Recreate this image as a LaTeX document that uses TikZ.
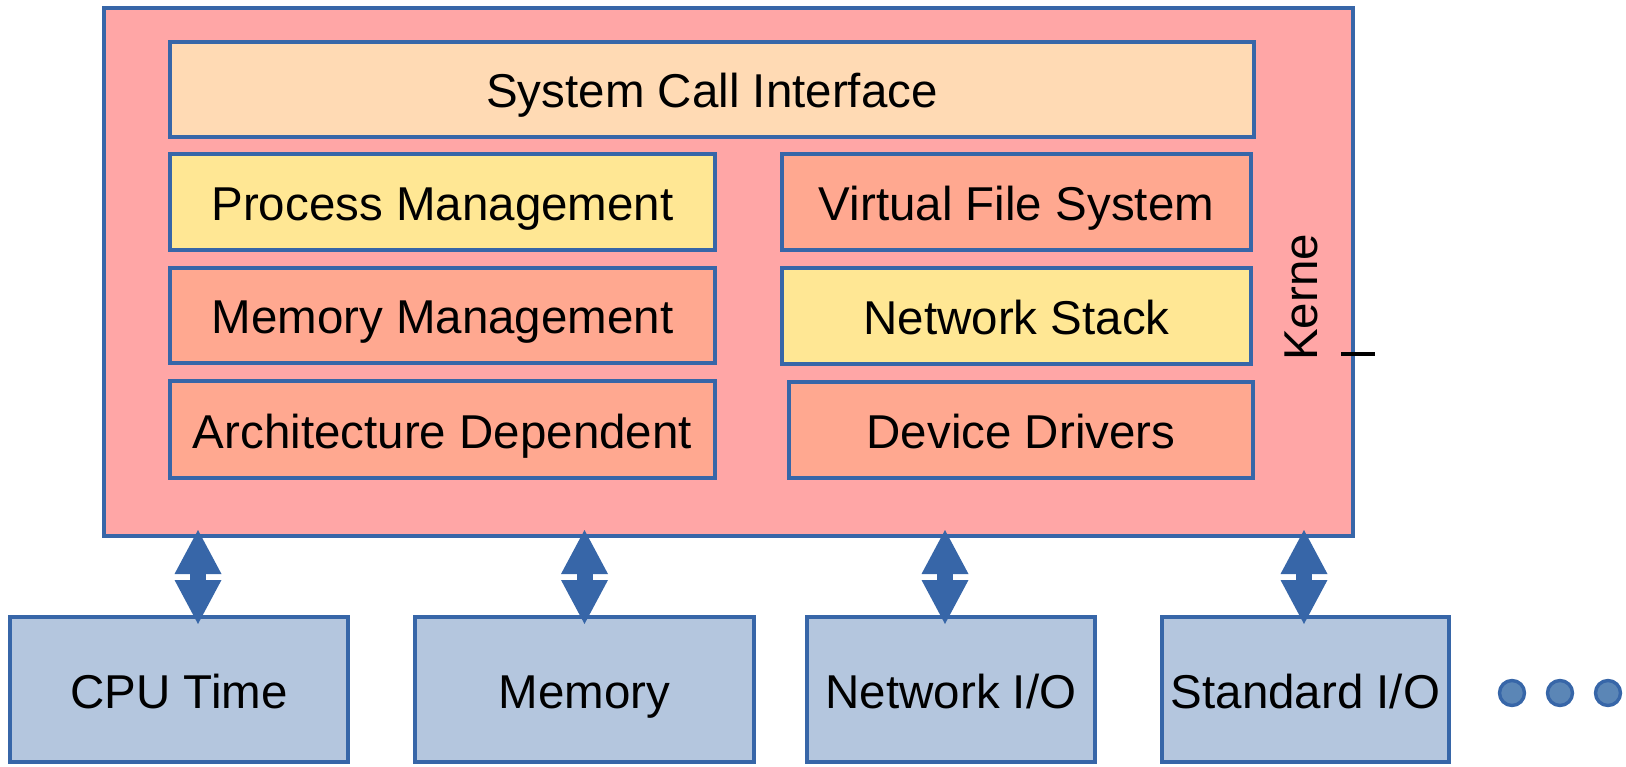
\documentclass[tikz,border=0pt]{standalone}
\usepackage{fontspec}
\setmainfont{Liberation Sans}
\usetikzlibrary{arrows.meta,calc}
\definecolor{edge}{HTML}{3766A8}
\definecolor{kernelfill}{HTML}{FFA6A6}
\definecolor{peach}{HTML}{FFDAB4}
\definecolor{butter}{HTML}{FFE794}
\definecolor{salmon}{HTML}{FFA890}
\definecolor{resfill}{HTML}{B4C6DE}
\definecolor{dotfill}{HTML}{5B86B6}
\begin{document}
\begin{tikzpicture}[x=1pt,y=-1pt,
  every node/.style={font=\fontsize{47.5}{57}\selectfont},
  box/.style={draw=edge, line width=3.4pt, rectangle, inner sep=0pt, outer sep=0pt,
    anchor=north west, text height=37pt, text depth=0pt},
  link/.style={edge, line width=16pt,
    {Triangle[length=44pt,width=47pt,line width=0pt]}-{Triangle[length=44pt,width=47pt,line width=0pt]}},
  dot/.style={circle, draw=edge, fill=dotfill, line width=3.4pt, minimum size=25pt, inner sep=0pt}]
\useasboundingbox (0,0) rectangle (1626,767);

% kernel frame
\node[box, fill=kernelfill, minimum width=1249pt, minimum height=528pt] (kernel) at (104,8) {};

% kernel subsystems
\node[box, fill=peach,  minimum width=1084pt, minimum height=95pt] (sci)  at (170,42)  {System Call Interface};
\node[box, fill=butter, minimum width=545pt,  minimum height=96pt] (proc) at (170,154) {Process Management};
\node[box, fill=salmon, minimum width=545pt,  minimum height=95pt] (mm)   at (170,268) {Memory Management};
\node[box, fill=salmon, minimum width=545pt,  minimum height=97pt] (arch) at (170,381) {Architecture Dependent};
\node[box, fill=salmon, minimum width=469pt,  minimum height=96pt] (vfs)  at (782,154) {Virtual File System};
\node[box, fill=butter, minimum width=469pt,  minimum height=96pt] (net)  at (782,268) {Network Stack};
\node[box, fill=salmon, minimum width=464pt,  minimum height=96pt] (dev)  at (789,382) {Device Drivers};

% side label
\node[rotate=90, anchor=base west, inner sep=0pt] (klabel) at (1317,361) {Kerne};
\draw[black, line width=4pt] (1341,354) -- (1375,354);

% resources
\node[box, fill=resfill, minimum width=338pt, minimum height=145pt] (cpu)   at (10,617)   {CPU Time};
\node[box, fill=resfill, minimum width=339pt, minimum height=145pt] (ram)   at (415,617)  {Memory};
\node[box, fill=resfill, minimum width=288pt, minimum height=145pt] (netio) at (807,617)  {Network I/O};
\node[box, fill=resfill, minimum width=287pt, minimum height=145pt] (stdio) at (1162,617) {Standard I/O};

% kernel <-> resource links
\draw[link] ($(kernel.south -| cpu.north)+(19,-6)$)    -- ($(cpu.north)+(19,7)$);
\draw[link] ($(kernel.south -| ram.north)+(0,-6)$)     -- ($(ram.north)+(0,7)$);
\draw[link] ($(kernel.south -| netio.north)+(-6,-6)$)  -- ($(netio.north)+(-6,7)$);
\draw[link] ($(kernel.south -| stdio.north)+(-1.5,-6)$) -- ($(stdio.north)+(-1.5,7)$);

% ellipsis
\node[dot] (d1) at (1512,693) {};
\node[dot] (d2) at (1560,693) {};
\node[dot] (d3) at (1608,693) {};
\end{tikzpicture}
\end{document}
